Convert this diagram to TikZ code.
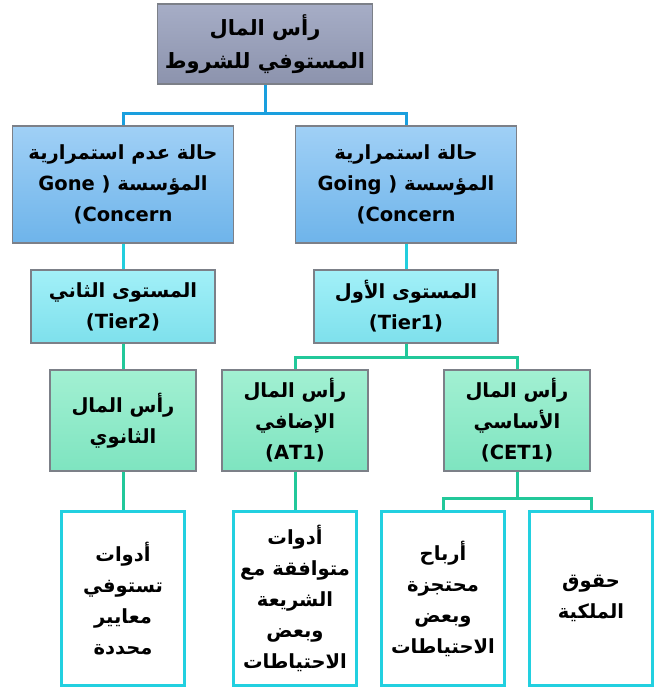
\documentclass[tikz,border=0pt]{standalone}
\usepackage{fontspec}
\newfontfamily\arabicfont[Script=Arabic]{DejaVu Sans}
\TeXXeTstate=1
\newcommand{\AR}[1]{\beginR #1\endR}
\definecolor{topA}{HTML}{A6ADC6}
\definecolor{topB}{HTML}{8C93AD}
\definecolor{blueA}{HTML}{A0D0F6}
\definecolor{blueB}{HTML}{6EB4EA}
\definecolor{cyanA}{HTML}{A2F0F8}
\definecolor{cyanB}{HTML}{7EE0EC}
\definecolor{greenA}{HTML}{A2F0D2}
\definecolor{greenB}{HTML}{7EE4C0}
\definecolor{lineBlue}{HTML}{1A9FDE}
\definecolor{lineCyan}{HTML}{22CEDE}
\definecolor{lineGreen}{HTML}{22C89A}
\definecolor{boxEdge}{HTML}{7C8088}
\definecolor{leafEdge}{HTML}{22D0E0}
\tikzset{
  base/.style={align=center, inner sep=0pt, font=\arabicfont\bfseries\fontsize{19.5}{31}\selectfont, text=black},
  topbox/.style={base, draw=boxEdge, line width=1.5pt, top color=topA, bottom color=topB, minimum width=215pt, minimum height=80pt, font=\arabicfont\bfseries\fontsize{21}{33}\selectfont},
  lvltwo/.style={base, draw=boxEdge, line width=1.5pt, top color=blueA, bottom color=blueB, minimum width=221pt, minimum height=117pt},
  lvlthree/.style={base, draw=boxEdge, line width=1.5pt, top color=cyanA, bottom color=cyanB, minimum width=184pt, minimum height=73pt},
  lvlfour/.style={base, draw=boxEdge, line width=1.5pt, top color=greenA, bottom color=greenB, minimum width=146pt, minimum height=101pt},
  leaf/.style={base, draw=leafEdge, line width=3pt, fill=white, minimum width=123pt, minimum height=174pt},
  conB/.style={draw=lineBlue, line width=3pt},
  conC/.style={draw=lineCyan, line width=3pt},
  conG/.style={draw=lineGreen, line width=3pt},
}
\begin{document}
\begin{tikzpicture}[x=1pt,y=-1pt]
\useasboundingbox (0,0) rectangle (656,689);
\node[topbox] (top) at (265,44) {\AR{رأس المال}\\\AR{المستوفي للشروط}};
\node[lvltwo] (gone) at (123,184.5) {\AR{حالة عدم استمرارية}\\Gone ( \AR{المؤسسة}\\(Concern};
\node[lvltwo] (going) at (406,184.5) {\AR{حالة استمرارية}\\Going ( \AR{المؤسسة}\\(Concern};
\node[lvlthree] (tiertwo) at (123,306.5) {\AR{المستوى الثاني}\\(Tier2)};
\node[lvlthree] (tierone) at (406,306.5) {\AR{المستوى الأول}\\(Tier1)};
\node[lvlfour] (sec) at (123,420.5) {\AR{رأس المال}\\\AR{الثانوي}};
\node[lvlfour] (atone) at (295,420.5) {\AR{رأس المال}\\\AR{الإضافي}\\(AT1)};
\node[lvlfour] (cetone) at (517,420.5) {\AR{رأس المال}\\\AR{الأساسي}\\(CET1)};
\node[leaf] (la) at (123,598.5) {\AR{أدوات}\\\AR{تستوفي}\\\AR{معايير}\\\AR{محددة}};
\node[leaf] (lb) at (295,598.5) {\AR{أدوات}\\\AR{متوافقة مع}\\\AR{الشريعة}\\\AR{وبعض}\\\AR{الاحتياطات}};
\node[leaf] (lc) at (443,598.5) {\AR{أرباح}\\\AR{محتجزة}\\\AR{وبعض}\\\AR{الاحتياطات}};
\node[leaf] (ld) at (591,598.5) {\AR{حقوق}\\\AR{الملكية}};
\coordinate (j1) at (265,113);
\coordinate (j2) at (406,357);
\coordinate (j3) at (517,498);
\draw[conB] (top.south) -- (j1) -| (gone.north);
\draw[conB] (j1) -| (going.north);
\draw[conC] (gone.south) -- (tiertwo.north);
\draw[conC] (going.south) -- (tierone.north);
\draw[conG] (tiertwo.south) -- (sec.north);
\draw[conG] (tierone.south) -- (j2) -| (atone.north);
\draw[conG] (j2) -| (cetone.north);
\draw[conG] (sec.south) -- (la.north);
\draw[conG] (atone.south) -- (lb.north);
\draw[conG] (cetone.south) -- (j3) -| (lc.north);
\draw[conG] (j3) -| (ld.north);
\end{tikzpicture}
\end{document}
